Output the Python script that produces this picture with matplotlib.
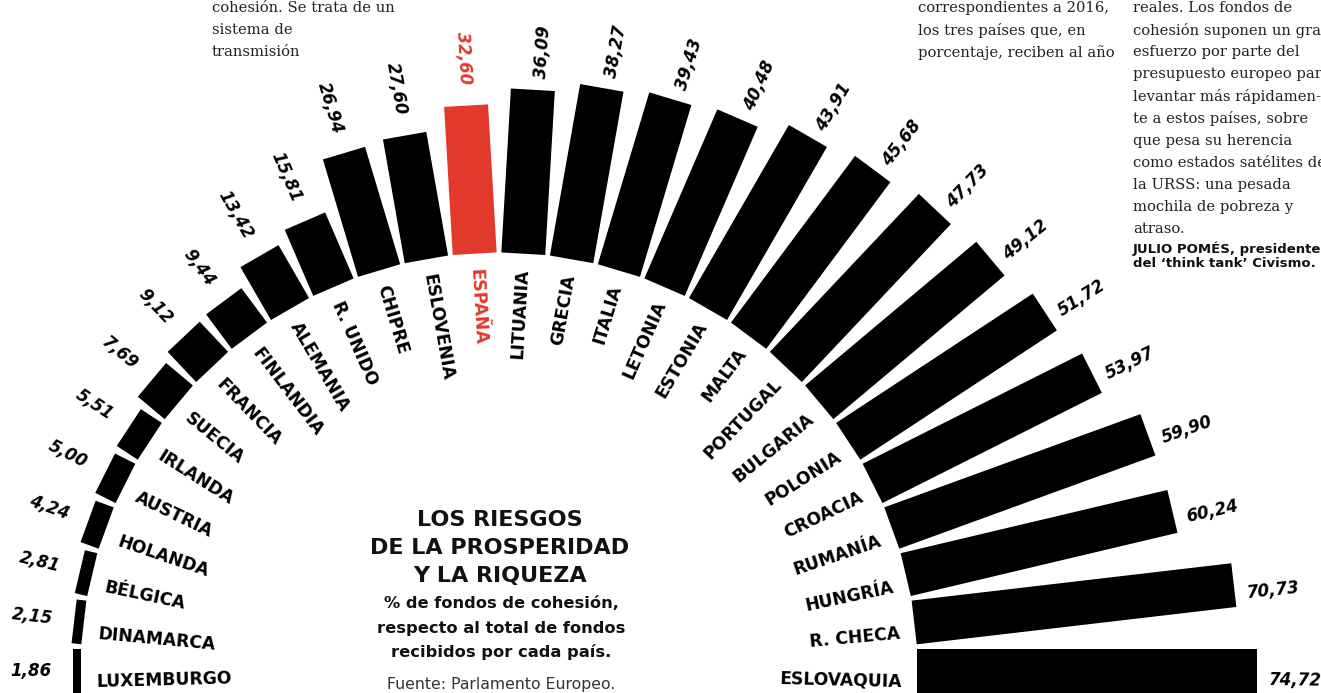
import numpy as np
import matplotlib.pyplot as plt
from matplotlib.patches import Rectangle

# datos: % de fondos de cohesión sobre el total recibido por cada país
paises = ["LUXEMBURGO", "DINAMARCA", "BÉLGICA", "HOLANDA", "AUSTRIA", "IRLANDA",
          "SUECIA", "FRANCIA", "FINLANDIA", "ALEMANIA", "R. UNIDO", "CHIPRE",
          "ESLOVENIA", "ESPAÑA", "LITUANIA", "GRECIA", "ITALIA", "LETONIA",
          "ESTONIA", "MALTA", "PORTUGAL", "BULGARIA", "POLONIA", "CROACIA",
          "RUMANÍA", "HUNGRÍA", "R. CHECA", "ESLOVAQUIA"]
valores = [1.86, 2.15, 2.81, 4.24, 5.00, 5.51, 7.69, 9.12, 9.44, 13.42, 15.81, 26.94,
           27.60, 32.60, 36.09, 38.27, 39.43, 40.48, 43.91, 45.68, 47.73, 49.12,
           51.72, 53.97, 59.90, 60.24, 70.73, 74.72]
destacado = "ESPAÑA"

titulo = ["LOS RIESGOS", "DE LA PROSPERIDAD", "Y LA RIQUEZA"]
subtitulo = ["% de fondos de cohesión,", "respecto al total de fondos",
             "recibidos por cada país."]
fuente = "Fuente: Parlamento Europeo."

texto_izq = ["cohesión. Se trata de un", "sistema de", "transmisión"]
texto_centro = ["correspondientes a 2016,", "los tres países que, en",
                "porcentaje, reciben al año"]
texto_der = ["reales. Los fondos de", "cohesión suponen un gran",
             "esfuerzo por parte del", "presupuesto europeo para",
             "levantar más rápidamen-", "te a estos países, sobre",
             "que pesa su herencia", "como estados satélites de",
             "la URSS: una pesada", "mochila de pobreza y", "atraso."]
firma = ["JULIO POMÉS, presidente", "del ‘think tank’ Civismo."]

rojo = "#e1392b"
H = 693

fig = plt.figure(figsize=(13.21, 6.93), dpi=100)
ax = fig.add_axes([0, 0, 1, 1])
ax.set_xlim(0, 1321)
ax.set_ylim(0, H)
ax.axis("off")

cx, cy = 499, H - 671   # centro del semicírculo
r0 = 418                # radio interior
k = 4.55                # px por punto porcentual
ancho = 44

n = len(valores)
ang = np.linspace(180, 0, n)
ang_pais = np.linspace(181.5, -1.5, n)

for i in range(n):
    p, v = paises[i], valores[i]
    th = np.radians(ang[i])
    u = np.array([np.cos(th), np.sin(th)])
    t = np.array([-np.sin(th), np.cos(th)])
    base = np.array([cx, cy]) + r0 * u - ancho / 2 * t
    L = v * k
    col = rojo if p == destacado else "black"
    ax.add_patch(Rectangle(base, L, ancho, angle=ang[i], color=col, lw=0))

    izq = ang[i] > 90
    # valor
    a_v = ang[i] if izq else ang[i] - 0.7
    tv = np.radians(a_v)
    rv = r0 + L + (21 if izq else 12)
    ax.text(cx + rv * np.cos(tv), cy + rv * np.sin(tv),
            f"{v:.2f}".replace(".", ","),
            rotation=a_v - 180 if izq else a_v, rotation_mode="anchor",
            ha="right" if izq else "left", va="center",
            fontsize=12, fontweight="bold", fontstyle="italic", color=col)
    # país
    tp = np.radians(ang_pais[i])
    rp = r0 - 15
    ax.text(cx + rp * np.cos(tp), cy + rp * np.sin(tp), p,
            rotation=ang_pais[i] - 180 if izq else ang_pais[i],
            rotation_mode="anchor", ha="left" if izq else "right", va="center",
            fontsize=12.3, fontweight="bold", color=col)

# titulos centrales
for s, y in zip(titulo, [520, 548, 576]):
    ax.text(500, H - y, s, ha="center", va="center", fontsize=16,
            fontweight="bold", color="#111111")
for s, y in zip(subtitulo, [604, 628, 652]):
    ax.text(501, H - y, s, ha="center", va="center", fontsize=11.7,
            fontweight="bold", color="#111111")
ax.text(501, H - 685, fuente, ha="center", va="center", fontsize=11.3,
        color="#333333")

# columnas de texto
for x0, lineas in [(212, texto_izq), (918, texto_centro), (1133, texto_der)]:
    for j, s in enumerate(lineas):
        ax.text(x0, H - (8 + 22.1 * j), s, ha="left", va="center",
                fontsize=10.6, family="DejaVu Serif", color="#222222")
for j, s in enumerate(firma):
    ax.text(1133, H - (249 + 14.5 * j), s, ha="left", va="center",
            fontsize=9.5, fontweight="bold", color="#111111")

fig.savefig("out.png", dpi=100, facecolor="white")
